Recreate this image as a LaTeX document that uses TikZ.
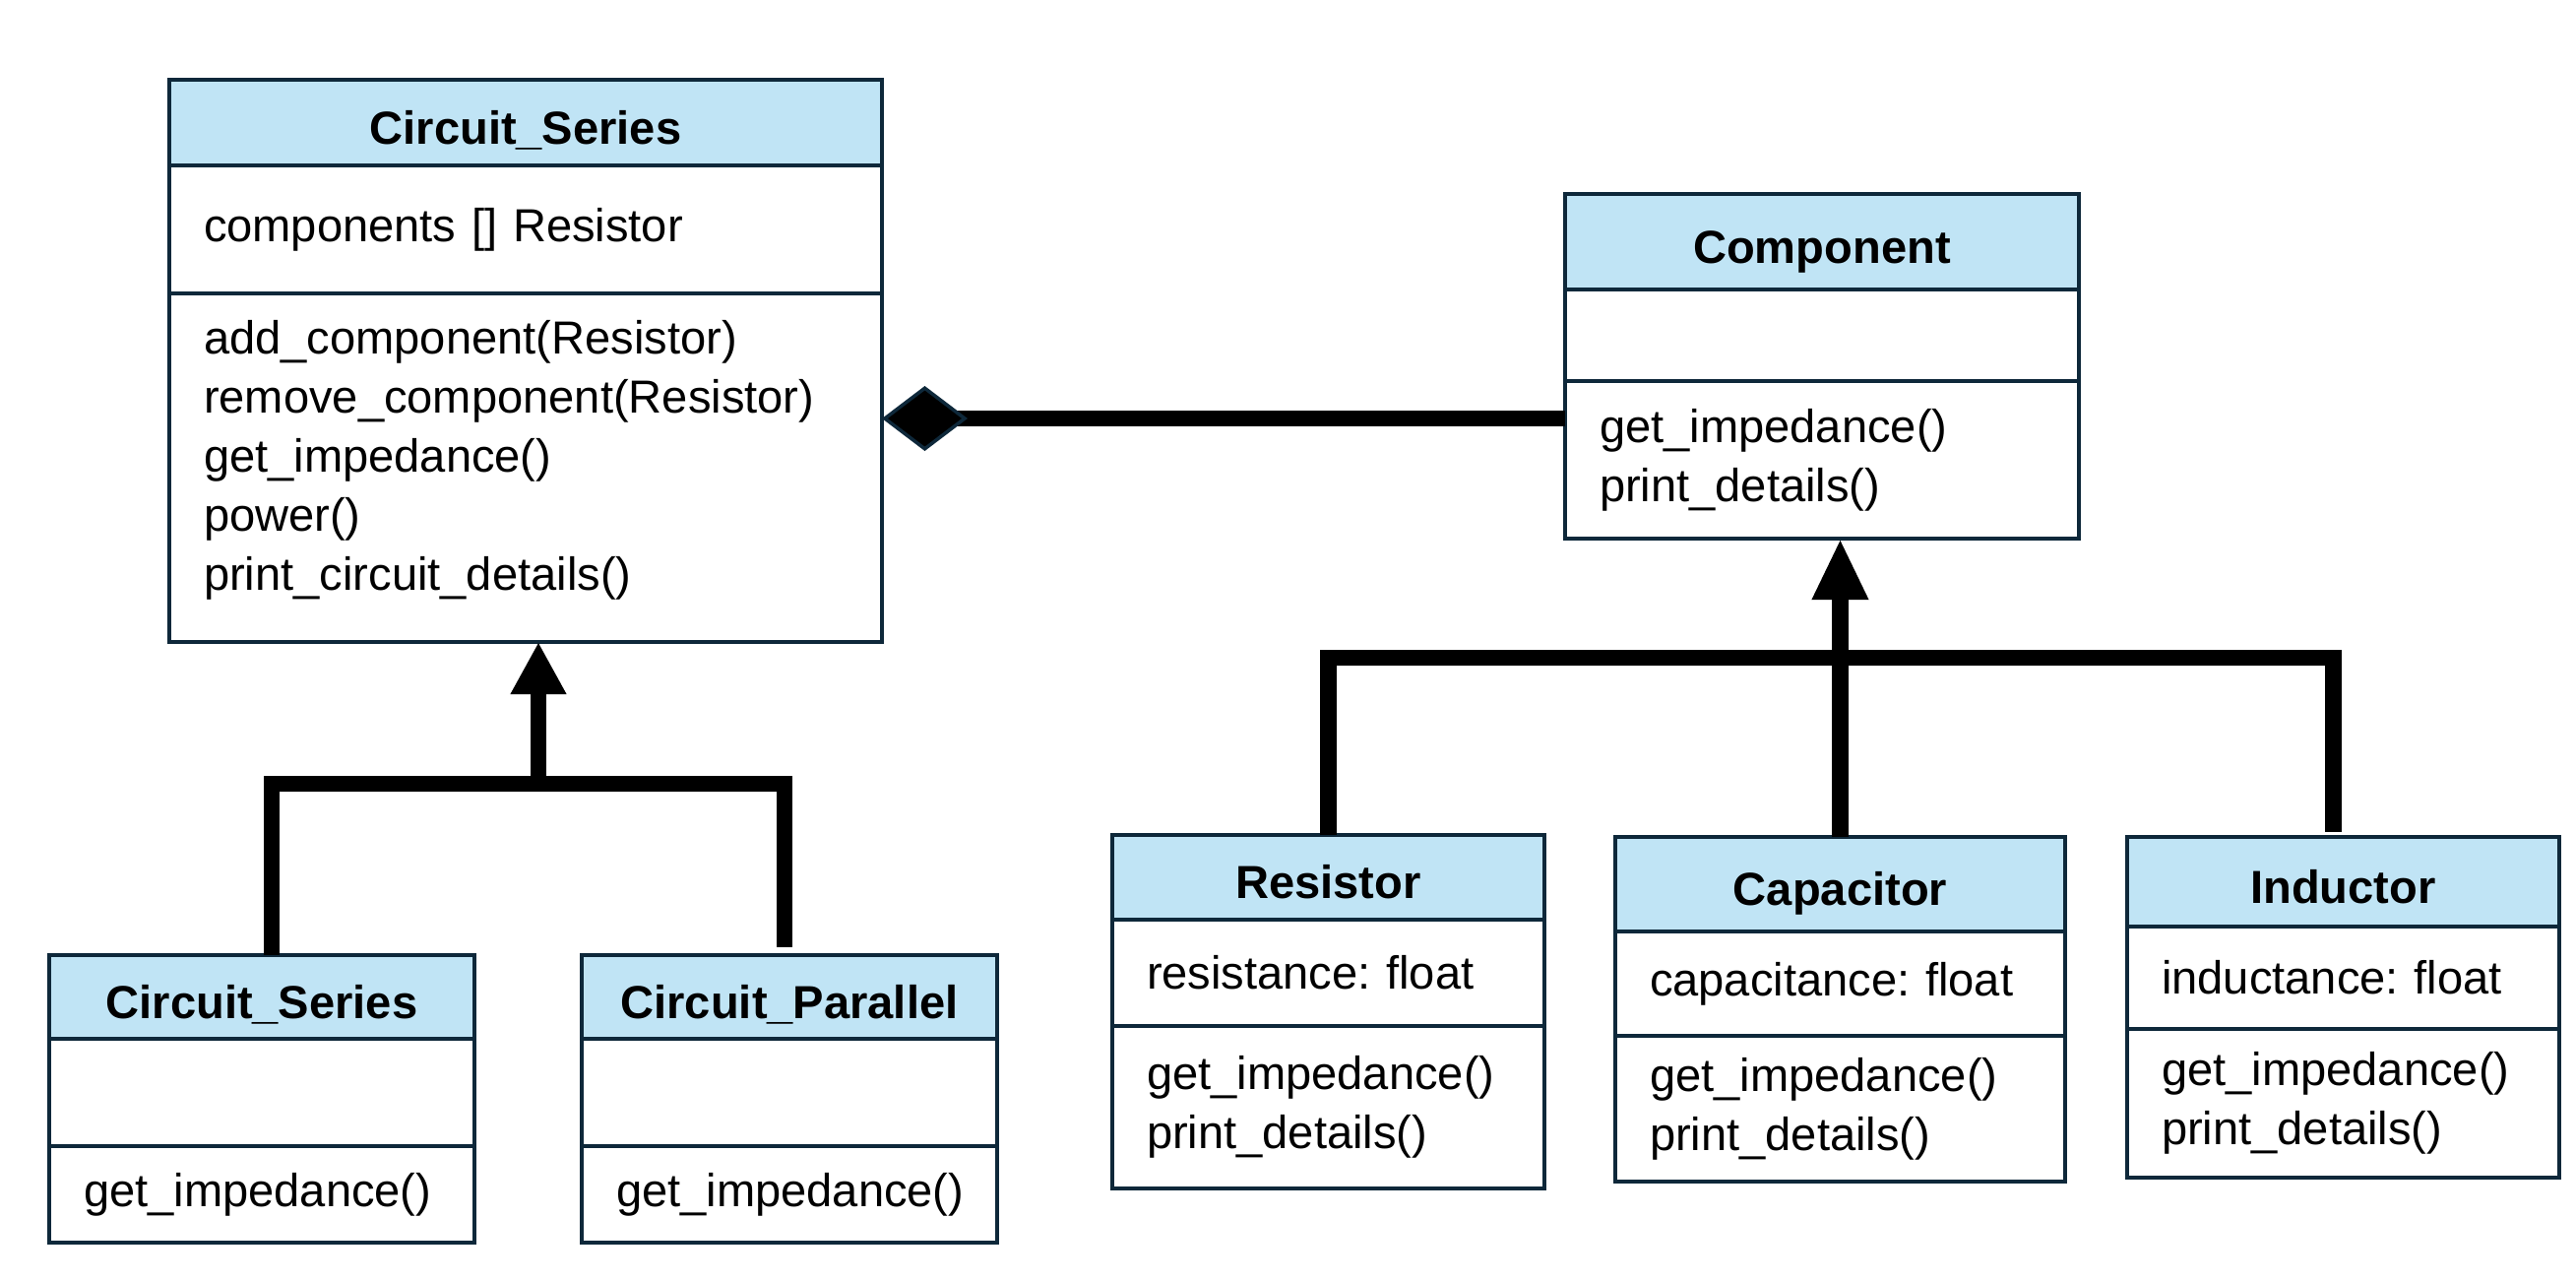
\documentclass[tikz,border=0pt]{standalone}
\usepackage{fontspec}
\setmainfont{Liberation Sans}
\usepackage{tikz}
\usetikzlibrary{arrows.meta}

\definecolor{boxline}{RGB}{14,40,58}
\definecolor{hdrblue}{RGB}{192,228,245}
\newcommand{\umlfont}{\fontsize{13.4pt}{17.07pt}\selectfont\frenchspacing}

\tikzset{
  hdr/.style={draw=boxline, fill=hdrblue, line width=1pt, anchor=north west,
    inner sep=0pt, outer sep=0pt, text height=12.4pt, text depth=0pt, font=\umlfont\bfseries},
  cmp/.style={draw=boxline, fill=white, line width=1pt, anchor=north west,
    align=left, inner xsep=0.35cm, inner ysep=0pt, outer sep=0pt, font=\umlfont},
  conn/.style={line width=0.165cm, line join=miter},
}

\begin{document}
\begin{tikzpicture}
    \useasboundingbox (0,0) rectangle (26.17,-13.01);

    % Circuit_Series (top)
    \node[hdr, minimum width=7.24cm, minimum height=0.87cm] (csH) at (1.72,-0.81) {Circuit\_Series};
    \node[cmp, text width=6.54cm, minimum height=1.30cm] (csA) at (csH.south west) {components [] Resistor};
    \node[cmp, text width=6.54cm, minimum height=3.54cm] (csM) at (csA.south west)
        {add\_component(Resistor)\\remove\_component(Resistor)\\get\_impedance()\\power()\\print\_circuit\_details()\rule[-0.26cm]{0pt}{0pt}};

    % Component
    \node[hdr, minimum width=5.22cm, minimum height=0.97cm] (compH) at (15.90,-1.97) {Component};
    \node[cmp, text width=4.52cm, minimum height=0.93cm] (compA) at (compH.south west) {};
    \node[cmp, text width=4.52cm, minimum height=1.60cm] (compM) at (compA.south west)
        {get\_impedance()\\print\_details()};

    % Circuit_Series (sub)
    \node[hdr, minimum width=4.32cm, minimum height=0.85cm] (serH) at (0.50,-9.70) {Circuit\_Series};
    \node[cmp, text width=3.62cm, minimum height=1.09cm] (serA) at (serH.south west) {};
    \node[cmp, text width=3.62cm, minimum height=0.98cm] (serM) at (serA.south west) {get\_impedance()};

    % Circuit_Parallel
    \node[hdr, minimum width=4.22cm, minimum height=0.85cm] (parH) at (5.91,-9.70) {Circuit\_Parallel};
    \node[cmp, text width=3.52cm, minimum height=1.09cm] (parA) at (parH.south west) {};
    \node[cmp, text width=3.52cm, minimum height=0.98cm] (parM) at (parA.south west) {get\_impedance()};

    % Resistor
    \node[hdr, minimum width=4.39cm, minimum height=0.86cm] (resH) at (11.30,-8.48) {Resistor};
    \node[cmp, text width=3.69cm, minimum height=1.08cm] (resA) at (resH.south west) {resistance: float};
    \node[cmp, text width=3.69cm, minimum height=1.65cm] (resM) at (resA.south west)
        {get\_impedance()\\print\_details()};

    % Capacitor
    \node[hdr, minimum width=4.57cm, minimum height=0.96cm] (capH) at (16.41,-8.50) {Capacitor};
    \node[cmp, text width=3.87cm, minimum height=1.06cm] (capA) at (capH.south west) {capacitance: float};
    \node[cmp, text width=3.87cm, minimum height=1.48cm] (capM) at (capA.south west)
        {get\_impedance()\\print\_details()};

    % Inductor
    \node[hdr, minimum width=4.39cm, minimum height=0.91cm] (indH) at (21.61,-8.50) {Inductor};
    \node[cmp, text width=3.69cm, minimum height=1.04cm] (indA) at (indH.south west) {inductance: float};
    \node[cmp, text width=3.69cm, minimum height=1.51cm] (indM) at (indA.south west)
        {get\_impedance()\\print\_details()};

    % composition
    \coordinate (dy) at (9.00,-4.25);
    \draw[conn, {Diamond[width=0.66cm,length=0.87cm,fill=black,color=boxline,line width=1pt]}-]
        (csM.east |- dy) -- (compM.west |- dy);

    % inheritance, left
    \coordinate (lj) at (5.47,-7.96);
    \draw[conn, shorten >=0.08cm] ([xshift=0.1cm]serH.north) -- ([xshift=0.1cm]serH.north |- lj)
        -- ([xshift=-0.05cm]parH.north |- lj) -- ([xshift=-0.05cm]parH.north);
    \draw[conn, -{Triangle[width=0.53cm,length=0.53cm]}] (lj) -- (lj |- csM.south);

    % inheritance, right
    \coordinate (rj) at (18.69,-6.68);
    \draw[conn, shorten >=0.05cm] (resH.north) -- (resH.north |- rj)
        -- ([xshift=-0.1cm]indH.north |- rj) -- ([xshift=-0.1cm]indH.north);
    \draw[conn, -{Triangle[width=0.53cm,length=0.62cm]}] (capH.north) -- (capH.north |- compM.south);
\end{tikzpicture}
\end{document}
